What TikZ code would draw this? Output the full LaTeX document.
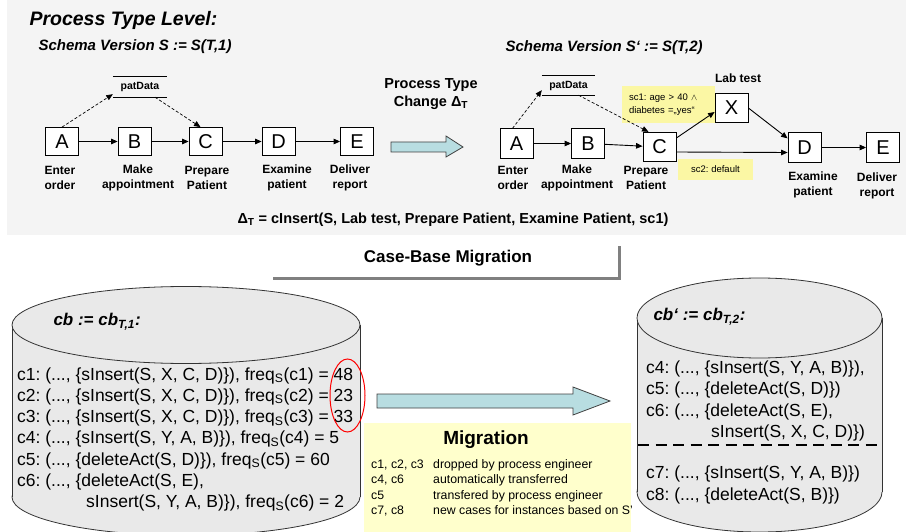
\documentclass[tikz,border=0pt]{standalone}
\usepackage{fontspec}
\setmainfont{Liberation Sans}
\usetikzlibrary{arrows.meta,calc}
\definecolor{panelgray}{HTML}{F4F4F4}
\definecolor{cylgray}{HTML}{E9E9E9}
\definecolor{arrowblue}{HTML}{B8DDE1}
\definecolor{condyellow}{HTML}{FBF7A4}
\definecolor{migyellow}{HTML}{FFFFCC}
\newcommand{\tdots}{...}
\frenchspacing

\begin{document}
\begin{tikzpicture}[x=1pt,y=-1pt,>={Triangle[length=6.5pt,width=5.5pt]},
  act/.style={draw,fill=white,line width=0.8pt,minimum width=33pt,minimum height=28pt,
    inner sep=0pt,font=\fontsize{20}{20}\selectfont},
  lbl/.style={align=center,inner sep=0pt,font=\fontsize{12}{15}\selectfont\bfseries},
  store/.style={minimum width=54pt,minimum height=20pt,inner sep=0pt,
    font=\fontsize{10.5}{12}\selectfont\bfseries},
  flow/.style={->,line width=0.9pt},
  dflow/.style={->,line width=0.7pt,dash pattern=on 3pt off 2pt},
  cond/.style={fill=condyellow,inner sep=0pt,font=\fontsize{9.5}{13}\selectfont},
  caseln/.style={anchor=base west,inner sep=0pt,font=\fontsize{17.5}{21}\selectfont},
  migln/.style={anchor=base west,inner sep=0pt,font=\fontsize{12.3}{15}\selectfont},
  blockarrow/.style={fill=arrowblue,draw=black!75,line width=0.8pt,line join=miter},
  cyl/.style={fill=cylgray,draw=black!80,line width=0.8pt}]
\clip (0,0) rectangle (906,532);
\fill[panelgray] (7,0) rectangle (906,235);
% titles
\node[anchor=west,font=\fontsize{19.5}{22}\selectfont\bfseries\itshape] (ptl) at (26,20) {Process Type Level:};
\node[anchor=west,font=\fontsize{15}{17}\selectfont\bfseries\itshape] (svl) at (35,47) {Schema Version S := S(T,1)};
\node[anchor=west,font=\fontsize{15}{17}\selectfont\bfseries\itshape] (svr) at (502,48) {Schema Version S‘ := S(T,2)};
% schema S
\node[act] (a1) at (62,141.5) {A};
\node[act] (b1) at (134.5,141.5) {B};
\node[act] (c1) at (205.5,141.5) {C};
\node[act] (d1) at (278.5,141.5) {D};
\node[act] (e1) at (357,141.5) {E};
\node[lbl] (la1) at (60,177.5) {Enter\\order};
\node[lbl] (lb1) at (138,177.5) {Make\\appointment};
\node[lbl] (lc1) at (207,177.5) {Prepare\\Patient};
\node[lbl] (ld1) at (287,177.5) {Examine\\patient};
\node[lbl] (le1) at (350,177.5) {Deliver\\report};
\node[store] (pd1) at (140,87) {patData};
\draw[line width=0.8pt] (pd1.north west) -- (pd1.north east) (pd1.south west) -- (pd1.south east);
\draw[flow] (a1) -- (b1); \draw[flow] (b1) -- (c1); \draw[flow] (c1) -- (d1); \draw[flow] (d1) -- (e1);
\draw[dflow] (a1.north) -- ([yshift=3pt]pd1.south west);
\draw[dflow] ([xshift=15pt]pd1.south) -- ([xshift=-5pt]c1.north);
% change arrow
\node[align=center,inner sep=0pt,font=\fontsize{14.5}{18}\selectfont\bfseries] (ptc) at (431,94)
  {Process Type\\Change Δ\textsubscript{T}};
\draw[blockarrow] (391,142) -- (446,142) -- (446,136) -- (463,147) -- (446,157) -- (446,152) -- (391,152) -- cycle;
% schema S'
\node[cond,minimum width=93pt,minimum height=37pt,text width=79pt,align=left] (sc1) at (668.5,104.5)
  {sc1: age > 40 $\wedge$\\diabetes =„yes“};
\node[cond,minimum width=75pt,minimum height=21pt] (sc2) at (715.5,169.5) {sc2: default};
\node[act,minimum height=29.5pt] (a2) at (516.5,143.5) {A};
\node[act,minimum height=29.5pt] (b2) at (588,143.5) {B};
\node[act,minimum height=29.5pt] (c2) at (659.5,147) {C};
\node[act,minimum height=29.5pt] (x2) at (731.5,108) {X};
\node[act,minimum height=29.5pt] (d2) at (804.5,147.5) {D};
\node[act,minimum height=29.5pt] (e2) at (883,147.5) {E};
\node[lbl] (lx2) at (738,78) {Lab test};
\node[lbl] (la2) at (513,178) {Enter\\order};
\node[lbl] (lb2) at (577,178) {Make\\appointment};
\node[lbl] (lc2) at (646,178) {Prepare\\Patient};
\node[lbl] (ld2) at (813,184.5) {Examine\\patient};
\node[lbl] (le2) at (877,185.5) {Deliver\\report};
\node[store,minimum width=53pt,minimum height=19pt] (pd2) at (568.5,85.5) {patData};
\draw[line width=0.8pt] (pd2.north west) -- (pd2.north east) (pd2.south west) -- (pd2.south east);
\draw[flow] (a2) -- (b2); \draw[flow] (b2) -- (c2);
\draw[flow] ([yshift=9pt]c2.east) -- ([yshift=-4pt]x2.west);
\draw[flow] (x2.east) -- ([yshift=-6pt]d2.north west);
\draw[flow] ([yshift=-5pt]c2.east) -- ([yshift=-5pt]d2.west);
\draw[flow] (d2) -- (e2);
\draw[dflow] ([xshift=-4pt]a2.north) -- ([yshift=5pt]pd2.south west);
\draw[dflow] ([xshift=10pt]pd2.south) -- ([xshift=-11pt]c2.north);
\node[font=\fontsize{14.5}{16}\selectfont\bfseries] (dlt) at (453,220)
  {Δ\textsubscript{T} = cInsert(S, Lab test, Prepare Patient, Examine Patient, sc1)};
% case-base migration
\node[font=\fontsize{17}{20}\selectfont\bfseries] (cbm) at (448,258) {Case-Base Migration};
\draw[black!50,line width=3pt] (273,278) -- (619,278) -- (619,246);
% old case base
\fill[cyl] (186,497) ellipse (174pt and 38.5pt);
\fill[cylgray] (12,325) rectangle (360,497);
\draw[black!80,line width=0.8pt] (12,325) -- (12,497) (360,325) -- (360,497);
\filldraw[cyl] (186,325) ellipse (174pt and 38.5pt);
\node[anchor=west,font=\fontsize{17}{20}\selectfont\bfseries\itshape] (cbo) at (50,322)
  {cb := cb\textsubscript{T,1}:};
\foreach \txt [count=\i] in {
  {c1: (\tdots, \{sInsert(S, X, C, D)\}), freq\textsubscript{S}(c1) = 48},
  {c2: (\tdots, \{sInsert(S, X, C, D)\}), freq\textsubscript{S}(c2) = 23},
  {c3: (\tdots, \{sInsert(S, X, C, D)\}), freq\textsubscript{S}(c3) = 33},
  {c4: (\tdots, \{sInsert(S, Y, A, B)\}), freq\textsubscript{S}(c4) = 5},
  {c5: (\tdots, \{deleteAct(S, D)\}), freq\textsubscript{S}(c5) = 60},
  {c6: (\tdots, \{deleteAct(S, E),},
  {\hspace*{69pt}sInsert(S, Y, A, B)\}), freq\textsubscript{S}(c6) = 2}}
  \node[caseln] (co\i) at (17,{380+21.3*(\i-1)}) {\txt};
\draw[red,line width=1pt] (347.5,395.5) ellipse (17.5pt and 36.5pt);
% migration
\draw[blockarrow] (377,394) -- (573,394) -- (573,387) -- (610,401) -- (573,415) -- (573,408) -- (377,408) -- cycle;
\fill[migyellow] (364,423) rectangle (631,532);
\node[font=\fontsize{19}{22}\selectfont\bfseries] (mig) at (486,440) {Migration};
\foreach \ca/\cb [count=\i] in {{c1, c2, c3}/dropped by process engineer,
  {c4, c6}/automatically transferred, c5/transfered by process engineer,
  {c7, c8}/new cases for instances based on S'} {
  \node[migln] (mk\i) at (371,{468.5+15.3*(\i-1)}) {\ca};
  \node[migln] (mv\i) at (433,{468.5+15.3*(\i-1)}) {\cb};
}
% new case base
\fill[cyl] (759.5,492) ellipse (122.5pt and 40pt);
\fill[cylgray] (637,318) rectangle (882,492);
\draw[black!80,line width=0.8pt] (637,318) -- (637,492) (882,318) -- (882,492);
\filldraw[cyl] (759.5,318) ellipse (122.5pt and 40pt);
\node[anchor=west,font=\fontsize{17}{20}\selectfont\bfseries\itshape] (cbn) at (650,317)
  {cb‘ := cb\textsubscript{T,2}:};
\foreach \txt/\yy [count=\i] in {
  {c4: (\tdots, \{sInsert(S, Y, A, B)\}),}/373,
  {c5: (\tdots, \{deleteAct(S, D)\})}/394,
  {c6: (\tdots, \{deleteAct(S, E),}/416,
  {\hspace*{65pt}sInsert(S, X, C, D)\})}/437,
  {c7: (\tdots, \{sInsert(S, Y, A, B)\})}/478,
  {c8: (\tdots, \{deleteAct(S, B)\})}/500}
  \node[caseln] (cn\i) at (646,\yy) {\txt};
\draw[line width=2.5pt,dash pattern=on 11pt off 6.5pt] (638,445) -- (881,445);
\end{tikzpicture}
\end{document}
